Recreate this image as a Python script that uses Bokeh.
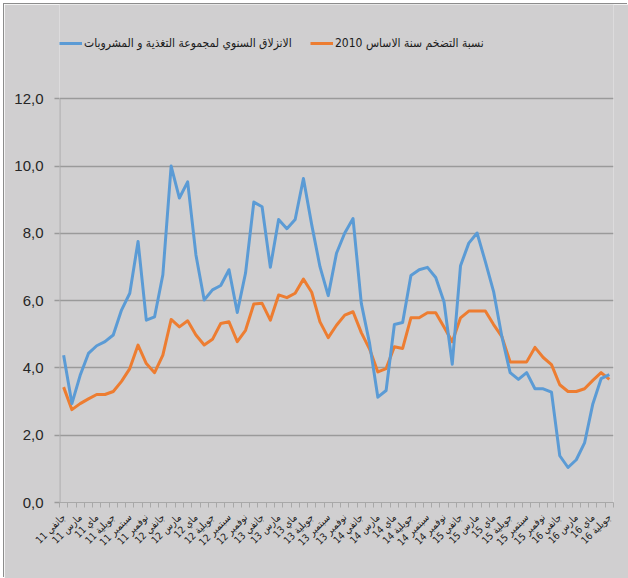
from bokeh.plotting import figure
from bokeh.models import Range1d, FixedTicker, Legend, LegendItem
from bokeh.embed import file_html
from bokeh.resources import INLINE
from math import pi

# ---- data ----
tick_months = ["جانفي", "مارس", "ماي", "جويلية", "سبتمبر", "نوفمبر"]
tick_years = ["11", "12", "13", "14", "15", "16"]
x_tick_labels = [f"{m} {y}" for y in tick_years for m in tick_months][:34]

y_ticks = [0, 2, 4, 6, 8, 10, 12]
y_tick_labels = ["0,0", "2,0", "4,0", "6,0", "8,0", "10,0", "12,0"]

food_label = "الانزلاق السنوي لمجموعة التغذية و المشروبات"
infl_label = "نسبة التضخم سنة الاساس 2010"

food = [4.38, 2.94, 3.78, 4.43, 4.66, 4.78, 4.98, 5.72, 6.22, 7.76, 5.42, 5.52,
        6.77, 10.0, 9.05, 9.53, 7.36, 6.02, 6.32, 6.45, 6.92, 5.65, 6.82, 8.93,
        8.79, 6.99, 8.41, 8.14, 8.41, 9.63, 8.26, 7.01, 6.15, 7.41, 8.01, 8.44,
        5.92, 4.73, 3.13, 3.33, 5.29, 5.35, 6.75, 6.92, 6.99, 6.69, 5.97, 4.11,
        7.04, 7.71, 8.01, 7.16, 6.27, 4.93, 3.86, 3.66, 3.86, 3.38, 3.38, 3.28,
        1.39, 1.04, 1.27, 1.77, 2.93, 3.68, 3.80]

inflation = [3.43, 2.76, 2.94, 3.08, 3.21, 3.21, 3.30, 3.60, 3.98, 4.68, 4.13, 3.86,
             4.38, 5.44, 5.22, 5.40, 4.98, 4.68, 4.85, 5.32, 5.37, 4.78, 5.12, 5.90,
             5.92, 5.42, 6.17, 6.09, 6.22, 6.64, 6.25, 5.37, 4.90, 5.27, 5.57, 5.67,
             5.05, 4.56, 3.88, 3.98, 4.63, 4.58, 5.49, 5.49, 5.64, 5.64, 5.22, 4.78,
             5.49, 5.69, 5.69, 5.69, 5.29, 4.93, 4.18, 4.18, 4.18, 4.61, 4.31, 4.10,
             3.50, 3.30, 3.30, 3.38, 3.63, 3.86, 3.66]

n = len(food)
x = list(range(n))

BG = "#D0CFD0"
GRID = "#9A9A9A"
AXIS = "#A8A8A8"
BLUE = "#5B9BD5"
ORANGE = "#ED7D31"

# frame reaches the top of the canvas so that the legend (drawn inside it) is not clipped;
# the visible plotting area still runs from 0 to 12
W, H = 624, 574
BORDER_L, BORDER_R, BORDER_B = 55, 15, 76
frame_h = H - BORDER_B
px_per_unit = 403.7 / 12
y_top = frame_h / px_per_unit

p = figure(width=W, height=H, output_backend="svg", toolbar_location=None,
           title=None, x_range=Range1d(-0.5, n - 0.5), y_range=Range1d(0, y_top),
           min_border_left=BORDER_L, min_border_right=BORDER_R, min_border_top=0,
           min_border_bottom=BORDER_B)
p.background_fill_color = BG
p.border_fill_color = BG
p.outline_line_color = None
p.styles = {"position": "relative", "left": "4px", "top": "4px",
            "box-shadow": "-1px -1px 0 0 #8c8c8c"}

# y axis line limited to the 0..12 span
p.segment(x0=[-0.5], y0=[y_ticks[0]], x1=[-0.5], y1=[y_ticks[-1]],
          line_color=AXIS, line_width=2)

r_infl = p.line(x, inflation, line_color=ORANGE, line_width=3, line_join="round")
r_food = p.line(x, food, line_color=BLUE, line_width=3, line_join="round")

# x axis
tick_pos = list(range(0, n, 2))
p.xaxis.ticker = FixedTicker(ticks=tick_pos, minor_ticks=[k + 0.5 for k in range(-1, n)])
p.xaxis.major_label_overrides = {t: lab for t, lab in zip(tick_pos, x_tick_labels)}
p.xaxis.major_label_orientation = pi / 4
p.xaxis.major_tick_line_color = None
p.xaxis.major_tick_out = 5
p.xaxis.major_tick_in = 0
p.xaxis.minor_tick_line_color = AXIS
p.xaxis.minor_tick_out = 5
p.xaxis.minor_tick_in = 0
p.xaxis.axis_line_color = AXIS
p.xaxis.major_label_standoff = 8
p.xaxis.major_label_text_font = "DejaVu Sans Condensed"
p.xaxis.major_label_text_font_size = "10px"
p.xaxis.major_label_text_color = "#1a1a1a"

# y axis
p.yaxis.ticker = FixedTicker(ticks=y_ticks, minor_ticks=[])
p.yaxis.major_label_overrides = {t: lab for t, lab in zip(y_ticks, y_tick_labels)}
p.yaxis.axis_line_color = None
p.yaxis.major_tick_line_color = GRID
p.yaxis.major_tick_line_width = 1.5
p.yaxis.major_tick_out = 5
p.yaxis.major_tick_in = 0
p.yaxis.minor_tick_line_color = None
p.yaxis.major_label_standoff = 11
p.yaxis.major_label_text_font = "Liberation Sans"
p.yaxis.major_label_text_font_size = "15px"
p.yaxis.major_label_text_color = "#262626"

p.xgrid.grid_line_color = None
p.ygrid.grid_line_color = GRID
p.ygrid.grid_line_width = 1.6

def make_legend(label, rend, xloc):
    leg = Legend(items=[LegendItem(label=label, renderers=[rend])],
                 location=(xloc, 449), orientation="horizontal",
                 padding=0, margin=0, spacing=0,
                 border_line_color=None, background_fill_alpha=0,
                 glyph_width=23, glyph_height=20, label_standoff=2,
                 label_text_font="DejaVu Sans Condensed", label_text_font_size="12px",
                 label_text_color="#1a1a1a")
    p.add_layout(leg)

make_legend(food_label, r_food, 0)
make_legend(infl_label, r_infl, 251)

open("out.html", "w").write(file_html(p, INLINE))
